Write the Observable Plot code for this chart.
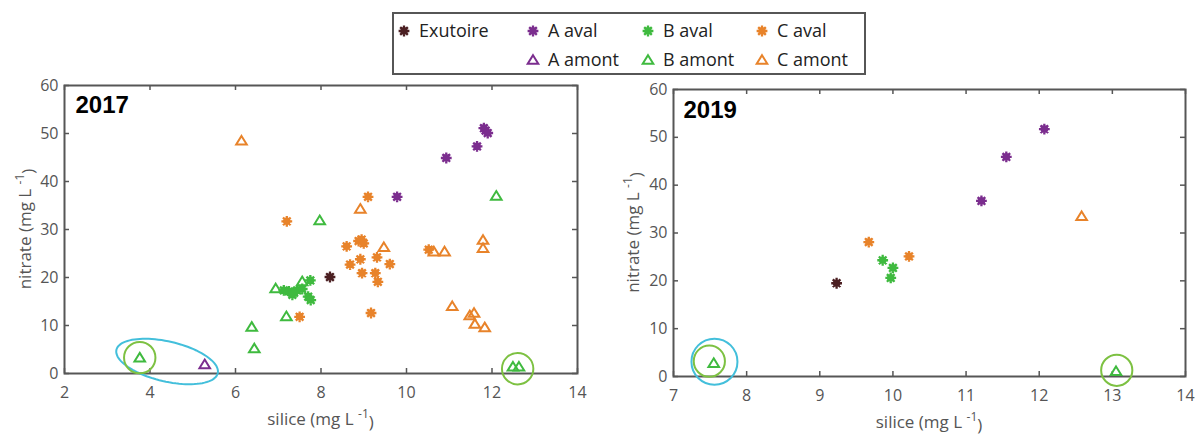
<!DOCTYPE html>
<html><head><meta charset="utf-8">
<script src="https://cdn.jsdelivr.net/npm/d3@7"></script>
<script src="https://cdn.jsdelivr.net/npm/@observablehq/plot@0.6"></script>
<style>
html,body{margin:0;padding:0;background:#fff;}
#root{position:relative;width:1199px;height:435px;overflow:hidden;font-family:"Open Sans",sans-serif;}
#root svg{position:absolute;}
</style></head><body><div id="root"></div>
<script>
// ---------- categories & colours ----------
const groups = ["Exutoire","A aval","B aval","C aval","A amont","B amont","C amont"];
const groupColors = ["#4b1f22","#7b2d8e","#3fba3f","#e8832a","#7b2d8e","#3fba3f","#e8832a"];
const groupKinds = ["aval","aval","aval","aval","amont","amont","amont"];

// ---------- 2017 (silice, nitrate) ----------
const exu17_si = [8.21];                 const exu17_no3 = [20.1];
const aAval17_si = [11.81,11.85,11.90,11.65,10.93,9.78];
const aAval17_no3 = [51.1,50.6,50.1,47.3,44.9,36.8];
const bAval17_si = [7.75,7.13,7.25,7.37,7.44,7.33,7.56,7.70,7.76];
const bAval17_no3 = [19.4,17.3,17.1,16.8,17.3,16.4,17.6,16.0,15.3];
const cAval17_si = [9.10,7.20,8.88,8.95,9.00,8.60,8.92,9.31,8.68,9.61,8.96,9.27,9.33,9.17,7.50,10.52];
const cAval17_no3 = [36.8,31.7,27.6,27.9,27.1,26.5,23.8,24.2,22.7,22.8,20.9,20.9,19.1,12.6,11.8,25.8];
const aAmont17_si = [5.28];              const aAmont17_no3 = [1.9];
const bAmont17_si = [3.76,6.38,6.44,6.94,7.19,7.56,7.97,12.10,12.49,12.63];
const bAmont17_no3 = [3.3,9.7,5.2,17.7,11.9,19.2,31.9,37.0,1.4,1.4];
const cAmont17_si = [6.14,8.92,9.47,10.64,10.89,11.79,11.79,11.07,11.58,11.48,11.60,11.83];
const cAmont17_no3 = [48.5,34.3,26.3,25.4,25.4,27.8,26.1,14.0,12.6,12.1,10.3,9.6];

// ---------- 2019 ----------
const exu19_si = [9.23];                 const exu19_no3 = [19.5];
const aAval19_si = [11.21,11.55,12.07];  const aAval19_no3 = [36.7,45.9,51.7];
const bAval19_si = [9.86,10.00,9.97];    const bAval19_no3 = [24.3,22.7,20.6];
const cAval19_si = [9.67,10.22];         const cAval19_no3 = [28.1,25.1];
const aAmont19_si = [];                  const aAmont19_no3 = [];
const bAmont19_si = [7.55,13.05];        const bAmont19_no3 = [2.8,1.1];
const cAmont19_si = [12.58];             const cAmont19_no3 = [33.5];

// ---------- ticks ----------
const xTicks17 = [2,4,6,8,10,12,14];
const xTicks19 = [7,8,9,10,11,12,13,14];
const yTicks = [0,10,20,30,40,50,60];

// ---------- highlighted samples (annotation rings) ----------
const rings17_si = [3.76,12.60];  const rings17_no3 = [3.3,1.0];
const oval17_si = [4.40];         const oval17_no3 = [2.5];
const greenRings19_si = [7.49,13.06]; const greenRings19_no3 = [3.2,1.3];
const blueRing19_si = [7.56];     const blueRing19_no3 = [3.1];

// ---------- build tables ----------
function table(sis, no3s){
  const rows=[];
  groups.forEach((g,i)=>{ sis[i].forEach((s,j)=>rows.push({group:g, si:s, no3:no3s[i][j]})); });
  return rows;
}
const rows17 = table(
  [exu17_si,aAval17_si,bAval17_si,cAval17_si,aAmont17_si,bAmont17_si,cAmont17_si],
  [exu17_no3,aAval17_no3,bAval17_no3,cAval17_no3,aAmont17_no3,bAmont17_no3,cAmont17_no3]);
const rows19 = table(
  [exu19_si,aAval19_si,bAval19_si,cAval19_si,aAmont19_si,bAmont19_si,cAmont19_si],
  [exu19_no3,aAval19_no3,bAval19_no3,cAval19_no3,aAmont19_no3,bAmont19_no3,cAmont19_no3]);
const pts = (xs,ys)=>xs.map((x,i)=>({si:x,no3:ys[i]}));

// ---------- symbols ----------
const asterisk = {draw(ctx){
  const r=5.4;
  [0,45,90,135].forEach(a=>{const t=a*Math.PI/180;
    ctx.moveTo(r*Math.cos(t), r*Math.sin(t)); ctx.lineTo(-r*Math.cos(t), -r*Math.sin(t));});
  ctx.moveTo(2.7,0); ctx.arc(0,0,2.7,0,2*Math.PI);
}};
const triangle = {draw(ctx){
  ctx.moveTo(0,-4.8); ctx.lineTo(5.3,3.8); ctx.lineTo(-5.3,3.8); ctx.closePath();
}};
function ovalSymbol(a,b,deg){
  const th=deg*Math.PI/180;
  return {draw(ctx){
    for(let i=0;i<=96;i++){const t=i/96*2*Math.PI;
      const x=a*Math.cos(t)*Math.cos(th)-b*Math.sin(t)*Math.sin(th);
      const y=a*Math.cos(t)*Math.sin(th)+b*Math.sin(t)*Math.cos(th);
      if(i===0) ctx.moveTo(x,y); else ctx.lineTo(x,y);}
    ctx.closePath();
  }};
}

const frameColor = "#565656";
const cyan = "#43bfdb", lime = "#7dc142";

function groupMarks(rows){
  return groups.map((g,i)=>{
    const data = rows.filter(d=>d.group===g);
    const aval = groupKinds[i]==="aval";
    return Plot.dot(data, {x:"si", y:"no3", symbol: aval?asterisk:triangle,
      stroke: groupColors[i], fill: aval?groupColors[i]:"none",
      strokeWidth: aval?2.3:2});
  });
}

function panel(cfg){
  const {year, rows, width, height, ml, mr, mt, mb, xDomain, xTicks, annotations, yearDx, yearDy} = cfg;
  const innerW = width-ml-mr, innerH = height-mt-mb;
  const svg = Plot.plot({
    width, height, marginLeft: ml, marginRight: mr, marginTop: mt, marginBottom: mb,
    style: {fontFamily:"'Open Sans', sans-serif", fontSize:"16px", color:"#555", background:"transparent", overflow:"visible"},
    x: {domain: xDomain, label: null},
    y: {domain: [0,60], label: null},
    marks: [
      Plot.axisX({ticks: xTicks, tickFormat: d => String(d), tickSize: 0, tickPadding: 13, label: null, fontSize: 16}),
      Plot.axisY({ticks: yTicks, tickFormat: d => String(d), tickSize: 0, tickPadding: 6, label: null, fontSize: 16}),
      Plot.ruleX(xTicks, {insetTop: innerH-5, stroke: frameColor, strokeWidth: 1.5}),
      Plot.ruleX(xTicks, {insetBottom: innerH-5, stroke: frameColor, strokeWidth: 1.5}),
      Plot.ruleY(yTicks, {insetRight: innerW-5, stroke: frameColor, strokeWidth: 1.5}),
      Plot.ruleY(yTicks, {insetLeft: innerW-5, stroke: frameColor, strokeWidth: 1.5}),
      Plot.frame({stroke: frameColor, strokeWidth: 2}),
      ...groupMarks(rows),
      ...annotations,
      Plot.text([year], {frameAnchor: "top-left", dx: yearDx, dy: yearDy, textAnchor: "start", lineAnchor: "middle",
        fontFamily: "'Liberation Sans', Arial, sans-serif", fontWeight: "bold", fontSize: 24, fill: "#000"})
    ]
  });
  return svg;
}

function axisTitles(svg, xc, xy, yx, yc){
  const s = d3.select(svg);
  const tx = s.append("text").attr("x", xc).attr("y", xy).attr("text-anchor","middle")
    .attr("fill","#555").style("font-size","17px").style("font-family","'Open Sans', sans-serif");
  tx.append("tspan").text("silice (mg L ");
  tx.append("tspan").attr("dy","-0.55em").style("font-size","12px").text("-1");
  tx.append("tspan").attr("dy","0.55em").text(")");
  const ty = s.append("text").attr("transform",`translate(${yx},${yc}) rotate(-90)`).attr("text-anchor","middle")
    .attr("fill","#555").style("font-size","17px").style("font-family","'Open Sans', sans-serif");
  ty.append("tspan").text("nitrate (mg L ");
  ty.append("tspan").attr("dy","-0.55em").style("font-size","12px").text("-1");
  ty.append("tspan").attr("dy","0.55em").text(")");
}

const root = document.getElementById("root");

// ---- 2017 panel ----
const svg17 = panel({
  year: "2017", rows: rows17, width: 600, height: 360, ml: 64, mr: 23, mt: 10, mb: 62,
  xDomain: [2,14], xTicks: xTicks17, yearDx: 11, yearDy: 20,
  annotations: [
    Plot.dot(pts(oval17_si, oval17_no3), {x:"si", y:"no3", symbol: ovalSymbol(52,20,13), stroke: cyan, fill:"none", strokeWidth: 2}),
    Plot.dot(pts(rings17_si, rings17_no3), {x:"si", y:"no3", r: 15.7, stroke: lime, fill:"none", strokeWidth: 2})
  ]
});
svg17.style.left = "0px"; svg17.style.top = "75px";
root.appendChild(svg17);
axisTitles(svg17, 320.5, 350, 31, 154);

// ---- 2019 panel ----
const svg19 = panel({
  year: "2019", rows: rows19, width: 599, height: 360, ml: 73, mr: 14, mt: 14, mb: 59,
  xDomain: [7,14], xTicks: xTicks19, yearDx: 10, yearDy: 21,
  annotations: [
    Plot.dot(pts(blueRing19_si, blueRing19_no3), {x:"si", y:"no3", r: 23, stroke: cyan, fill:"none", strokeWidth: 2}),
    Plot.dot(pts(greenRings19_si, greenRings19_no3), {x:"si", y:"no3", r: 15.6, stroke: lime, fill:"none", strokeWidth: 2})
  ]
});
svg19.style.left = "600px"; svg19.style.top = "75px";
root.appendChild(svg19);
axisTitles(svg19, 329, 353, 39, 157.5);

// ---- legend ----
const legRow = [0,0,0,0,1,1,1], legCol = [0,1,2,3,1,2,3];
const colX = [404,533,648,762], rowY = [31,60];
const leg = d3.select(root).append("svg").attr("width",1199).attr("height",80).style("left","0px").style("top","0px");
leg.append("rect").attr("x",393).attr("y",13).attr("width",472).attr("height",61)
  .attr("fill","#fff").attr("stroke",frameColor).attr("stroke-width",2);
groups.forEach((g,i)=>{
  const x = colX[legCol[i]], y = rowY[legRow[i]];
  const aval = groupKinds[i]==="aval";
  leg.append("path").attr("transform",`translate(${x},${y})`)
    .attr("d", d3.symbol(aval?asterisk:triangle)())
    .attr("stroke", groupColors[i]).attr("fill", aval?groupColors[i]:"none").attr("stroke-width", aval?2.3:2);
  leg.append("text").attr("x", x+15).attr("y", y).attr("dy","0.35em").attr("fill","#222")
    .style("font-size","18px").style("font-family","'Open Sans', sans-serif").text(g);
});
</script></body></html>
